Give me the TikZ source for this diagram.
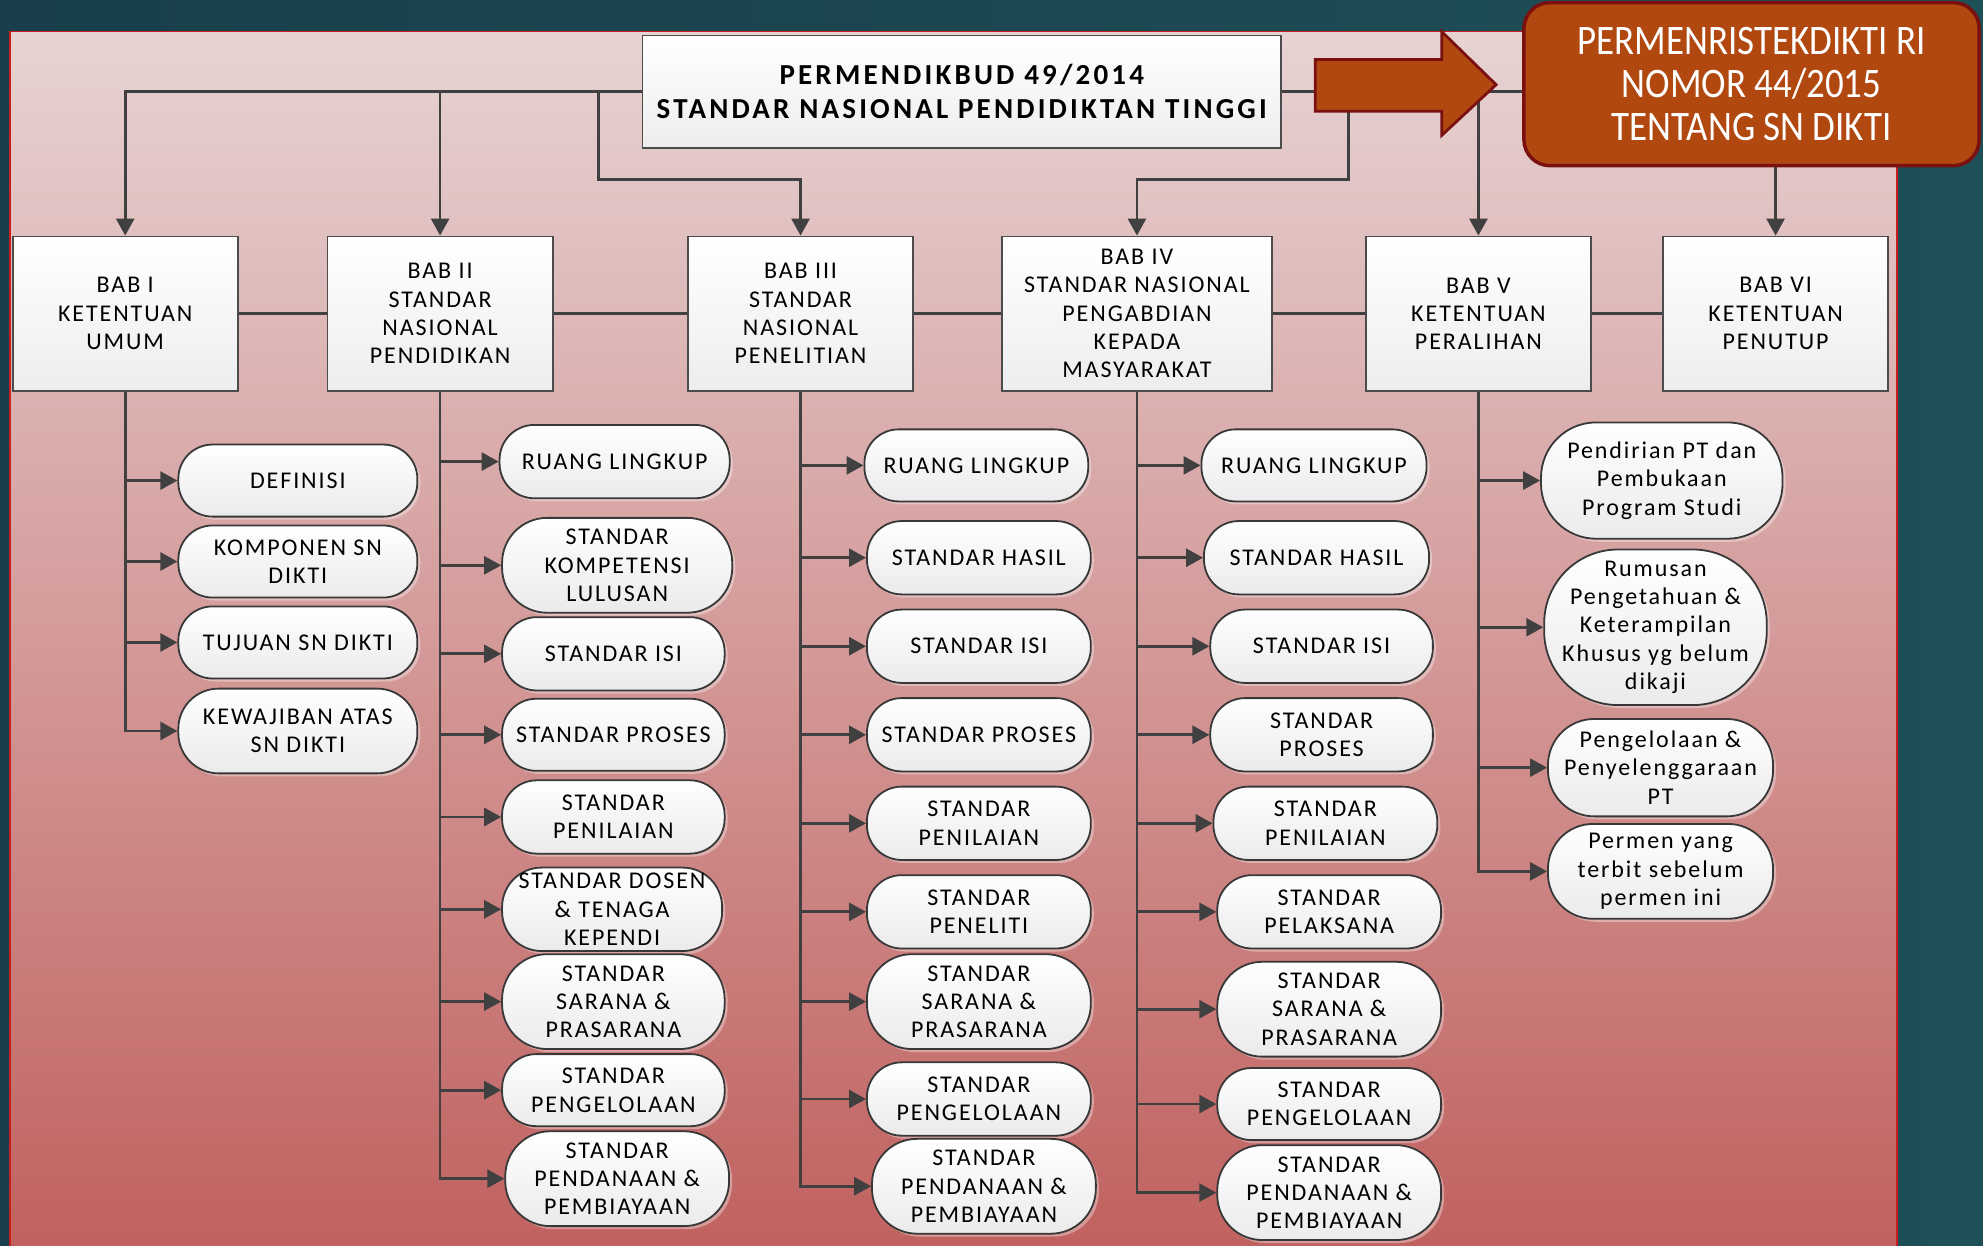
\documentclass[tikz,border=0pt]{standalone}
\usepackage{fontspec}
\usetikzlibrary{arrows.meta,shadows,calc}
\newfontfamily\nf{Carlito}[LetterSpace=8]
\newfontfamily\tf{Carlito}[LetterSpace=11]
\newfontfamily\rf{Carlito}[FakeStretch=0.88]
\definecolor{bgA}{HTML}{183F4B}
\definecolor{bgB}{HTML}{2C6262}
\definecolor{bgC}{HTML}{1E5058}
\definecolor{pTop}{HTML}{E7D3D3}
\definecolor{pBot}{HTML}{C0615F}
\definecolor{lineC}{HTML}{404040}
\definecolor{orng}{HTML}{B0480F}
\definecolor{dred}{HTML}{7A1010}
\definecolor{pborder}{HTML}{C81E1E}
\tikzset{
  conn/.style={draw=lineC, line width=2.7pt},
  arr/.style={conn, -{Triangle[length=17pt,width=18pt]}},
  babbox/.style 2 args={draw=black!70, line width=1.8pt, top color=white, bottom color=black!7,
    minimum width=#1*1.2647pt, minimum height=#2*1.2647pt, inner sep=0pt, align=center,
    font=\nf\fontsize{24}{28.3}\selectfont},
  pill/.style 2 args={draw=black!78, line width=1.8pt, top color=white, bottom color=black!8,
    minimum width=#1*1.2647pt, minimum height=#2*1.2647pt, rounded corners=#2*0.6pt,
    inner sep=0pt, align=center, font=\nf\fontsize{24}{28.3}\selectfont,
    drop shadow={shadow xshift=3pt, shadow yshift=-3pt, fill=white, opacity=0.35}},
}
\begin{document}
\begin{tikzpicture}[x=1.2647pt, y=-1.2647pt]
\useasboundingbox (0,0) rectangle (1568,985);
% background
\fill[left color=bgA, middle color=bgB, right color=bgC] (0,0) rectangle (1568,985);
\fill[top color=pTop, bottom color=pBot] (8,25) rectangle (1500,990);
\draw[pborder, line width=1.5pt] (8,990) -- (8,25) -- (1500,25) -- (1500,990);

% top boxes
\node[babbox={505}{89}, font=\tf\bfseries\fontsize{29}{34}\selectfont] (title) at (760.5,72.5)
  {PERMENDIKBUD 49/2014\\STANDAR NASIONAL PENDIDIKTAN TINGGI};
\node[draw=dred, line width=3.5pt, fill=orng, rounded corners=26pt, minimum width=360*1.2647pt,
  minimum height=129*1.2647pt, align=center, text=white, inner sep=0pt,
  font=\rf\fontsize{42}{43}\selectfont] (red) at (1385,66.5)
  {PERMENRISTEKDIKTI RI\\NOMOR 44/2015\\TENTANG SN DIKTI};

\node[babbox={178}{122}] (b1) at (99,248) {BAB I\\KETENTUAN\\UMUM};
\node[babbox={178}{122}] (b2) at (348,248) {BAB II\\STANDAR\\NASIONAL\\PENDIDIKAN};
\node[babbox={178}{122}] (b3) at (633,248) {BAB III\\STANDAR\\NASIONAL\\PENELITIAN};
\node[babbox={214}{122}] (b4) at (899,248) {BAB IV\\STANDAR NASIONAL\\PENGABDIAN\\KEPADA\\MASYARAKAT};
\node[babbox={178}{122}] (b5) at (1169,248) {BAB V\\KETENTUAN\\PERALIHAN};
\node[babbox={178}{122}] (b6) at (1404,248) {BAB VI\\KETENTUAN\\PENUTUP};

% column 1
\node[pill={189}{57}] (c11) at (235.5,380) {DEFINISI};
\node[pill={189}{57}] (c12) at (235.5,444) {KOMPONEN SN\\DIKTI};
\node[pill={189}{57}] (c13) at (235.5,508) {TUJUAN SN DIKTI};
\node[pill={189}{67}] (c14) at (235.5,578) {KEWAJIBAN ATAS\\SN DIKTI};
% column 2
\node[pill={182}{58}] (c21) at (486,365) {RUANG LINGKUP};
\node[pill={182}{75}] (c22) at (488,447) {STANDAR\\KOMPETENSI\\LULUSAN};
\node[pill={176}{58}] (c23) at (485,517) {STANDAR ISI};
\node[pill={176}{57}] (c24) at (485,581) {STANDAR PROSES};
\node[pill={176}{58}] (c25) at (485,646) {STANDAR\\PENILAIAN};
\node[pill={174}{66}] (c26) at (484,719) {STANDAR DOSEN\\\& TENAGA\\KEPENDI};
\node[pill={176}{75}] (c27) at (485,792) {STANDAR\\SARANA \&\\PRASARANA};
\node[pill={176}{57}] (c28) at (485,862) {STANDAR\\PENGELOLAAN};
\node[pill={177}{75}] (c29) at (488,932) {STANDAR\\PENDANAAN \&\\PEMBIAYAAN};
% column 3
\node[pill={177}{57}] (c31) at (772,368) {RUANG LINGKUP};
\node[pill={177}{58}] (c32) at (774,441) {STANDAR HASIL};
\node[pill={177}{58}] (c33) at (774,511) {STANDAR ISI};
\node[pill={177}{58}] (c34) at (774,581) {STANDAR PROSES};
\node[pill={177}{58}] (c35) at (774,651) {STANDAR\\PENILAIAN};
\node[pill={177}{58}] (c36) at (774,721) {STANDAR\\PENELITI};
\node[pill={177}{75}] (c37) at (774,792) {STANDAR\\SARANA \&\\PRASARANA};
\node[pill={177}{58}] (c38) at (774,869) {STANDAR\\PENGELOLAAN};
\node[pill={177}{75}] (c39) at (778,938) {STANDAR\\PENDANAAN \&\\PEMBIAYAAN};
% column 4
\node[pill={178}{57}] (c41) at (1039,368) {RUANG LINGKUP};
\node[pill={178}{58}] (c42) at (1041,441) {STANDAR HASIL};
\node[pill={176}{58}] (c43) at (1045,511) {STANDAR ISI};
\node[pill={176}{58}] (c44) at (1045,581) {STANDAR\\PROSES};
\node[pill={177}{58}] (c45) at (1048,651) {STANDAR\\PENILAIAN};
\node[pill={177}{58}] (c46) at (1051,721) {STANDAR\\PELAKSANA};
\node[pill={177}{75}] (c47) at (1051,798) {STANDAR\\SARANA \&\\PRASARANA};
\node[pill={177}{57}] (c48) at (1051,873) {STANDAR\\PENGELOLAAN};
\node[pill={177}{75}] (c49) at (1051,943) {STANDAR\\PENDANAAN \&\\PEMBIAYAAN};
% column 5
\node[pill={191}{92}] (c51) at (1314,380) {Pendirian PT dan\\Pembukaan\\Program Studi};
\node[pill={176}{123}] (c52) at (1309,496) {Rumusan\\Pengetahuan \&\\Keterampilan\\Khusus yg belum\\dikaji};
\node[pill={178}{77}] (c53) at (1313,607) {Pengelolaan \&\\Penyelenggaraan\\PT};
\node[pill={178}{75}] (c54) at (1313,689) {Permen yang\\terbit sebelum\\permen ini};

% connectors from top
\coordinate (j3) at (473,142);
\coordinate (j4) at (1066,142);
\draw[arr] (title.west) -| (b1.north);
\draw[arr] (title.west -| b2.north) -- (b2.north);
\draw[arr] (j3 |- title.west) -- (j3) -| (b3.north);
\draw[arr] (j4 |- title.east) -- (j4) -| (b4.north);
\draw[conn] (title.east) -- (title.east -| red.west);
\draw[arr] (title.east -| b5.north) -- (b5.north);
\draw[arr] (red.south -| b6.north) -- (b6.north);
\draw[conn] (b1.east) -- (b2.west);
\draw[conn] (b2.east) -- (b3.west);
\draw[conn] (b3.east) -- (b4.west);
\draw[conn] (b4.east) -- (b5.west);
\draw[conn] (b5.east) -- (b6.west);

% column connectors
\foreach \n in {c11,c12,c13} \draw[arr] (b1.south |- \n.west) -- (\n.west);
\draw[arr] (b1.south) |- (c14.west);
\foreach \n in {c21,c22,c23,c24,c25,c26,c27,c28} \draw[arr] (b2.south |- \n.west) -- (\n.west);
\draw[arr] (b2.south) |- (c29.west);
\foreach \n in {c31,c32,c33,c34,c35,c36,c37,c38} \draw[arr] (b3.south |- \n.west) -- (\n.west);
\draw[arr] (b3.south) |- (c39.west);
\foreach \n in {c41,c42,c43,c44,c45,c46,c47,c48} \draw[arr] (b4.south |- \n.west) -- (\n.west);
\draw[arr] (b4.south) |- (c49.west);
\foreach \n in {c51,c52,c53} \draw[arr] (b5.south |- \n.west) -- (\n.west);
\draw[arr] (b5.south) |- (c54.west);

% big arrow
\draw[fill=orng, draw=dred, line width=2.8pt, line join=miter]
  (1040,47) -- (1140,47) -- (1140,25) -- (1183,67) -- (1140,107) -- (1140,88) -- (1040,88) -- cycle;
\end{tikzpicture}
\end{document}
